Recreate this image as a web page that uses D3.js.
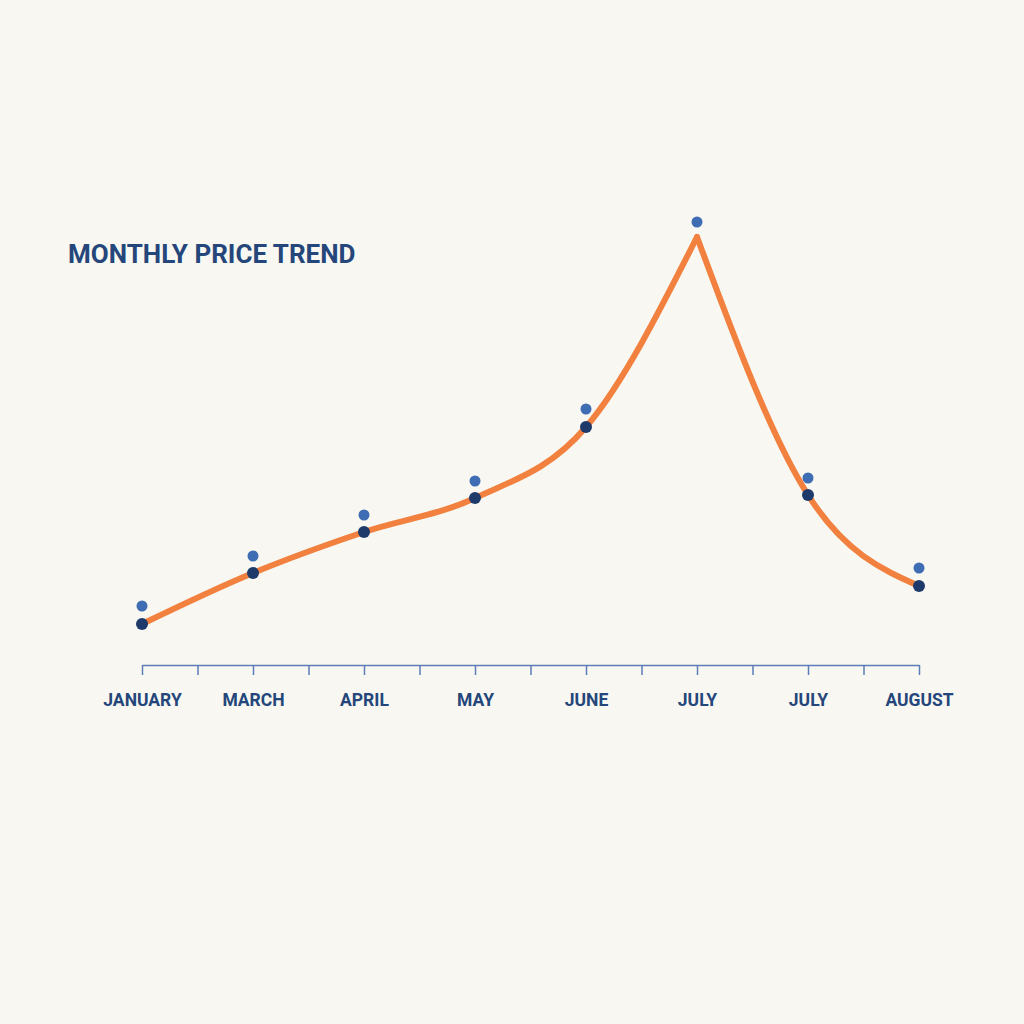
<!DOCTYPE html>
<html lang="en">
    <head>
        <meta charset="utf-8" />
        <title>Monthly Price Trend</title>
        <style>
            body { margin: 0; background: #f8f7f2; }
            svg text { font-family: Roboto, "Liberation Sans", sans-serif; }
            .axis path, .axis line { stroke: #5b7db8; stroke-width: 1.5; }
            .axis text { fill: #24467a; font-size: 17.5px; font-weight: 700; }
        </style>
        <script src="https://cdn.jsdelivr.net/npm/d3@7/dist/d3.min.js"></script>
    </head>
    <body>
        <script>
            // month labels under the major ticks (the chart repeats July)
            var months = ['JANUARY', 'MARCH', 'APRIL', 'MAY', 'JUNE', 'JULY', 'JULY', 'AUGUST'];
            // price on the orange line (dark dots)
            var prices = [8.2, 18.4, 26.6, 33.4, 47.6, 85.6, 34, 15.8];
            // light blue marker above each point
            var markers = [11.8, 21.8, 30, 36.8, 51.2, 88.6, 37.4, 19.4];
            var peak = 5;

            var width = 1024, height = 1024;

            var svg = d3.select('body').append('svg')
                .attr('width', width)
                .attr('height', height);

            svg.append('rect')
                .attr('width', width)
                .attr('height', height)
                .attr('fill', '#f8f7f2');

            var x = d3.scaleLinear().domain([0, months.length - 1]).range([142, 919]);
            var y = d3.scaleLinear().domain([0, 100]).range([665, 165]);

            svg.append('text')
                .attr('x', 68)
                .attr('y', 263)
                .attr('fill', '#24467a')
                .attr('font-size', 26)
                .attr('font-weight', 700)
                .text('MONTHLY PRICE TREND');

            // axis with a minor tick halfway between months
            var tickVals = d3.range(0, months.length - 0.99, 0.5);
            var axis = d3.axisBottom(x)
                .tickValues(tickVals)
                .tickSize(10)
                .tickSizeOuter(0)
                .tickPadding(19)
                .tickFormat(function(d) { return d % 1 === 0 ? months[d] : ''; });

            svg.append('g')
                .attr('class', 'axis')
                .attr('transform', 'translate(0,' + y(0) + ')')
                .call(axis);

            // the line has a sharp peak, so draw the rise and the fall separately
            var line = d3.line()
                .x(function(d) { return x(d.i); })
                .y(function(d) { return y(d.v); })
                .curve(d3.curveMonotoneX);

            var pts = prices.map(function(v, i) { return { i: i, v: v }; });

            [pts.slice(0, peak + 1), pts.slice(peak)].forEach(function(seg) {
                svg.append('path')
                    .attr('d', line(seg))
                    .attr('fill', 'none')
                    .attr('stroke', '#f2813f')
                    .attr('stroke-width', 6)
                    .attr('stroke-linecap', 'round')
                    .attr('stroke-linejoin', 'round');
            });

            svg.selectAll('circle.marker')
                .data(markers)
                .enter()
                .append('circle')
                .attr('class', 'marker')
                .attr('cx', function(d, i) { return x(i); })
                .attr('cy', function(d) { return y(d); })
                .attr('r', 5.5)
                .attr('fill', '#3e6db3');

            svg.selectAll('circle.point')
                .data(pts.filter(function(d) { return d.i !== peak; }))
                .enter()
                .append('circle')
                .attr('class', 'point')
                .attr('cx', function(d) { return x(d.i); })
                .attr('cy', function(d) { return y(d.v); })
                .attr('r', 6)
                .attr('fill', '#1d3a6b');
        </script>
    </body>
</html>
